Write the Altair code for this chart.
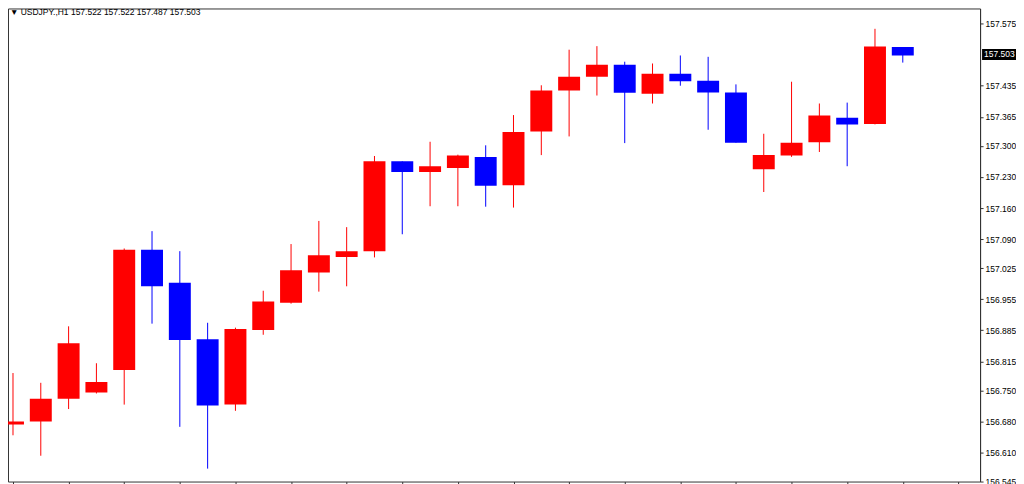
import altair as alt
import pandas as pd

symbol = "USDJPY.,H1"

opens = [156.673, 156.680, 156.731, 156.745, 156.796, 157.066, 156.992, 156.865, 156.718,
         156.886, 156.947, 157.015, 157.050, 157.063, 157.265, 157.241, 157.250, 157.275,
         157.211, 157.332, 157.424, 157.455, 157.482, 157.417, 157.462, 157.446, 157.420,
         157.247, 157.278, 157.308, 157.363, 157.349, 157.522]
highs = [156.789, 156.767, 156.894, 156.811, 157.069, 157.108, 157.063, 156.902, 156.891,
         156.974, 157.079, 157.131, 157.117, 157.277, 157.265, 157.309, 157.280, 157.301,
         157.369, 157.436, 157.516, 157.524, 157.489, 157.485, 157.503, 157.500, 157.438,
         157.327, 157.444, 157.395, 157.397, 157.563, 157.522]
lows = [156.649, 156.603, 156.708, 156.743, 156.718, 156.900, 156.668, 156.574, 156.704,
        156.875, 156.945, 156.972, 156.984, 157.049, 157.101, 157.164, 157.164, 157.163,
        157.161, 157.279, 157.321, 157.413, 157.306, 157.395, 157.435, 157.336, 157.307,
        157.196, 157.275, 157.286, 157.254, 157.348, 157.487]
closes = [156.680, 156.731, 156.856, 156.769, 157.066, 156.984, 156.863, 156.716, 156.888,
          156.950, 157.020, 157.054, 157.063, 157.265, 157.241, 157.254, 157.278, 157.210,
          157.331, 157.424, 157.455, 157.482, 157.419, 157.462, 157.445, 157.420, 157.307,
          157.279, 157.307, 157.368, 157.348, 157.523, 157.503]

y_ticks = [157.575, 157.435, 157.365, 157.300, 157.230, 157.160, 157.090, 157.025,
           156.955, 156.885, 156.815, 156.750, 156.680, 156.610, 156.545]

n = len(opens)
df = pd.DataFrame({
    "idx": list(range(n)),
    "open": opens, "high": highs, "low": lows, "close": closes,
})
df["dir"] = ["up" if c >= o else "down" for o, c in zip(opens, closes)]

last = pd.DataFrame({
    "idx": [n - 1],
    "price": [closes[-1]],
    "header": [f"\u25bc {symbol} {opens[-1]:.3f} {highs[-1]:.3f} {lows[-1]:.3f} {closes[-1]:.3f}"],
})

FONT = "Liberation Sans"
xscale = alt.Scale(domain=[0, 34.6], nice=False, zero=False)
yscale = alt.Scale(domain=[156.545, 157.6087], nice=False, zero=False)
color = alt.Color("dir:N", scale=alt.Scale(domain=["up", "down"], range=["#ff0000", "#0000ff"]), legend=None)

x_axis = alt.Axis(values=list(range(0, 35, 2)), labels=False, tickSize=4,
                  domain=False, grid=False, title=None)
y_axis = alt.Axis(orient="right", values=y_ticks, format=".3f", tickSize=3,
                  labelPadding=2, grid=False, title=None, labelFlush=False,
                  labelOverlap=False, labelBound=False)

wicks = alt.Chart(df).mark_rule(strokeWidth=1, clip=True).encode(
    x=alt.X("idx:Q", scale=xscale, axis=x_axis),
    y=alt.Y("low:Q", scale=yscale, axis=y_axis), y2="high:Q", color=color)

bodies = alt.Chart(df).mark_bar(size=22, clip=True).encode(
    x=alt.X("idx:Q", scale=xscale, axis=x_axis),
    y=alt.Y("open:Q", scale=yscale, axis=y_axis), y2="close:Q", color=color)

tag = alt.Chart(last).mark_tick(orient="horizontal", size=34, thickness=11, color="black",
                                opacity=1, clip=False, yOffset=-1).encode(
    x=alt.value(993), y=alt.Y("price:Q", scale=yscale, axis=y_axis))

tag_text = alt.Chart(last).mark_text(align="left", baseline="middle", color="white",
                                     font=FONT, fontSize=8.5, dy=-1).encode(
    x=alt.value(978), y=alt.Y("price:Q", scale=yscale, axis=y_axis),
    text=alt.Text("price:Q", format=".3f"))

header = alt.Chart(last).mark_text(align="left", baseline="middle", color="black",
                                   font=FONT, fontSize=8.5).encode(
    x=alt.value(2), y=alt.value(4), text="header:N")

chart = alt.layer(wicks, bodies, tag, tag_text, header).properties(
    width=974, height=474, padding=0, background="white"
).configure_view(
    stroke="#333333", strokeWidth=1
).configure_axis(
    labelFont=FONT, labelFontSize=8.5, labelColor="black",
    tickColor="#333333", domainColor="#333333", labelOverlap=False
)

chart.save("out.html", embed_options={"renderer": "svg", "actions": False})
